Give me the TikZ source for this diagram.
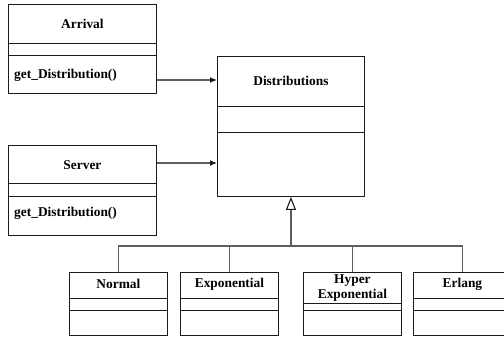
\documentclass[tikz,border=0pt]{standalone}
\usepackage{fontspec}
\setmainfont{Liberation Serif}
\usetikzlibrary{arrows.meta,positioning,calc}
\definecolor{cLine}{HTML}{1A1A1A}
\definecolor{cLink}{HTML}{5E5E5E}
\tikzset{
  cls/.style     = {draw=cLine, line width=0.9pt, anchor=north west,
                    inner sep=0pt, fill=white},
  sep/.style     = {draw=cLine, line width=0.9pt},
  title/.style   = {font=\fontsize{13.4}{15}\selectfont\bfseries, align=center},
  meth/.style    = {font=\fontsize{13.4}{15}\selectfont\bfseries, anchor=west,
                    inner sep=0pt},
  link/.style    = {draw=cLink, line width=1.1pt},
  assoc/.style   = {link, -{Latex[length=7pt, width=6pt, color=cLine]}},
  inherit/.style = {link, -{Triangle[open, length=13pt, width=10pt, fill=white,
                    color=cLine]}},
}
\begin{document}
\begin{tikzpicture}[x=1pt, y=-1pt]
  \useasboundingbox (0,0) rectangle (504,337);
  \clip (0,0) rectangle (504,337);
  % callers
  \node[cls, minimum width=148pt, minimum height=89pt] (arr) at (8,4) {};
  \draw[sep] ($(arr.north west)+(0,39)$) -- ($(arr.north east)+(0,39)$);
  \draw[sep] ($(arr.north west)+(0,51)$) -- ($(arr.north east)+(0,51)$);
  \node[title] (arrT) at ($(arr.north)+(0,20)$) {Arrival};
  \node[meth] (arrM) at ($(arr.north west)+(6,71)$) {get\_Distribution()};
  \node[cls, minimum width=148pt, minimum height=90pt] (srv) at (8,145) {};
  \draw[sep] ($(srv.north west)+(0,38)$) -- ($(srv.north east)+(0,38)$);
  \draw[sep] ($(srv.north west)+(0,51)$) -- ($(srv.north east)+(0,51)$);
  \node[title] (srvT) at ($(srv.north)+(0,20)$) {Server};
  \node[meth] (srvM) at ($(srv.north west)+(6,68)$) {get\_Distribution()};
  % base class
  \node[cls, minimum width=147pt, minimum height=140pt] (dis) at (217,56) {};
  \draw[sep] ($(dis.north west)+(0,50)$) -- ($(dis.north east)+(0,50)$);
  \draw[sep] ($(dis.north west)+(0,76)$) -- ($(dis.north east)+(0,76)$);
  \node[title] (disT) at ($(dis.north)+(0,25)$) {Distributions};
  % subclasses
  \foreach \n/\x/\d/\y/\t in {nor/69/26/12/Normal, exp/180/26/12/Exponential,
      hyp/303/31/16/{Hyper\\Exponential}, erl/413/26/12/Erlang} {
    \node[cls, minimum width=98pt, minimum height=63pt] (\n) at (\x,272) {};
    \draw[sep] ($(\n.north west)+(0,\d)$) -- ($(\n.north east)+(0,\d)$);
    \draw[sep] ($(\n.north west)+(0,38)$) -- ($(\n.north east)+(0,38)$);
    \node[title] (\n T) at ($(\n.north)+(0,\y)$) {\t};
  }
  % connectors
  \draw[assoc] ($(arr.north east)+(0,76)$) coordinate (a1) -- (a1 -| dis.west);
  \draw[assoc] ($(srv.north east)+(0,18)$) coordinate (s1) -- (s1 -| dis.west);
  \coordinate (bus) at (dis.south |- 0,246);
  \draw[link] (nor.north) -- (nor.north |- bus) -- (erl.north |- bus) -- (erl.north);
  \foreach \n in {exp,hyp} \draw[link] (\n.north) -- (\n.north |- bus);
  \draw[inherit] (bus) -- (dis.south);
\end{tikzpicture}
\end{document}
